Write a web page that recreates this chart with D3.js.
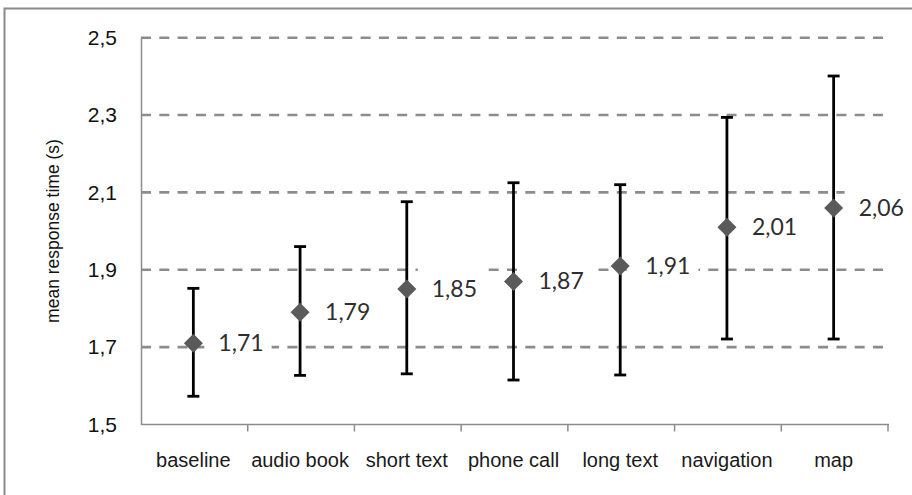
<!DOCTYPE html>
<html>
<head>
<meta charset="utf-8">
<script src="https://cdn.jsdelivr.net/npm/d3@7"></script>
<style>
  html, body { margin: 0; padding: 0; background: #fff; }
  svg { display: block; }
</style>
</head>
<body>
<svg id="chart" width="912" height="495"></svg>
<script>
const categories = ["baseline", "audio book", "short text", "phone call", "long text", "navigation", "map"];
const means = [1.71, 1.79, 1.85, 1.87, 1.91, 2.01, 2.06];
const lower = [1.573, 1.627, 1.631, 1.615, 1.628, 1.721, 1.721];
const upper = [1.852, 1.960, 2.076, 2.125, 2.120, 2.294, 2.401];
const meanLabels = ["1,71", "1,79", "1,85", "1,87", "1,91", "2,01", "2,06"];
const yTicks = [1.5, 1.7, 1.9, 2.1, 2.3, 2.5];
const yTitle = "mean response time (s)";

const svg = d3.select("#chart");
const fmt = v => v.toFixed(1).replace(".", ",");

// outer frame
svg.append("rect")
  .attr("x", 4.5).attr("y", 8.5).attr("width", 940).attr("height", 520)
  .attr("fill", "#fff").attr("stroke", "#8a8a8a").attr("stroke-width", 2);

const x = d3.scaleBand().domain(categories).range([141, 888]).padding(0);
const y = d3.scaleLinear().domain([1.5, 2.5]).range([424.5, 37.7]);

// gridlines
svg.append("g").selectAll("line")
  .data(yTicks.filter(t => t > 1.5))
  .join("line")
  .attr("x1", 141).attr("x2", 886)
  .attr("y1", d => y(d)).attr("y2", d => y(d))
  .attr("stroke", "#8c8c8c").attr("stroke-width", 2.6)
  .attr("stroke-dasharray", "10,8.3");

// y axis
const yAxis = d3.axisLeft(y).tickValues(yTicks).tickFormat(fmt).tickSize(0).tickPadding(24);
const gy = svg.append("g").attr("transform", "translate(141,0)").call(yAxis);
gy.select(".domain").attr("stroke", "#8c8c8c").attr("stroke-width", 1.5);
gy.selectAll("text").attr("font-family", "Liberation Sans, Arial, sans-serif")
  .attr("font-size", 21).attr("fill", "#111");

// x axis
svg.append("line").attr("x1", 141).attr("x2", 889).attr("y1", 424.5).attr("y2", 424.5)
  .attr("stroke", "#8c8c8c").attr("stroke-width", 1.5);
const boundaries = categories.map(c => x(c)).concat([x(categories[categories.length - 1]) + x.bandwidth()]);
svg.append("g").selectAll("line").data(boundaries.slice(1)).join("line")
  .attr("x1", d => d).attr("x2", d => d).attr("y1", 424.5).attr("y2", 431.5)
  .attr("stroke", "#8c8c8c").attr("stroke-width", 1.5);
svg.append("g").selectAll("text").data(categories).join("text")
  .attr("x", d => x(d) + x.bandwidth() / 2 - 1)
  .attr("y", 467)
  .attr("text-anchor", "middle")
  .attr("font-family", "Liberation Sans, Arial, sans-serif")
  .attr("font-size", 20).attr("fill", "#1a1a1a")
  .text(d => d);

// y title
svg.append("text")
  .attr("transform", "translate(59,231) rotate(-90)")
  .attr("text-anchor", "middle")
  .attr("font-family", "Liberation Sans, Arial, sans-serif")
  .attr("font-size", 17.5).attr("fill", "#111")
  .text(yTitle);

const cx = d => x(d) + x.bandwidth() / 2 - 1;

// label backgrounds + labels
const labG = svg.append("g");
categories.forEach((c, i) => {
  const tx = cx(c) + 25, ty = y(means[i]);
  const t = labG.append("text")
    .attr("x", tx).attr("y", ty).attr("dy", "0.35em")
    .attr("font-family", "Lato, 'Open Sans', sans-serif")
    .attr("font-size", 23).attr("fill", "#2e2e2e")
    .text(meanLabels[i]);
  const bb = t.node().getBBox();
  labG.insert("rect", "text")
    .attr("x", bb.x - 14).attr("y", ty - 24).attr("width", bb.width + 22).attr("height", 46)
    .attr("fill", "#fff");
});

// error bars
const eb = svg.append("g").attr("stroke", "#000").attr("stroke-width", 2.8);
categories.forEach((c, i) => {
  const px = cx(c);
  eb.append("line").attr("x1", px).attr("x2", px).attr("y1", y(upper[i])).attr("y2", y(lower[i]));
  eb.append("line").attr("x1", px - 6).attr("x2", px + 6).attr("y1", y(upper[i])).attr("y2", y(upper[i]));
  eb.append("line").attr("x1", px - 6).attr("x2", px + 6).attr("y1", y(lower[i])).attr("y2", y(lower[i]));
});

// diamonds
svg.append("g").selectAll("path").data(categories).join("path")
  .attr("transform", (d, i) => `translate(${cx(d)},${y(means[i])})`)
  .attr("d", "M0,-9.5L9.5,0L0,9.5L-9.5,0Z")
  .attr("fill", "#5a5a5a");
</script>
</body>
</html>
